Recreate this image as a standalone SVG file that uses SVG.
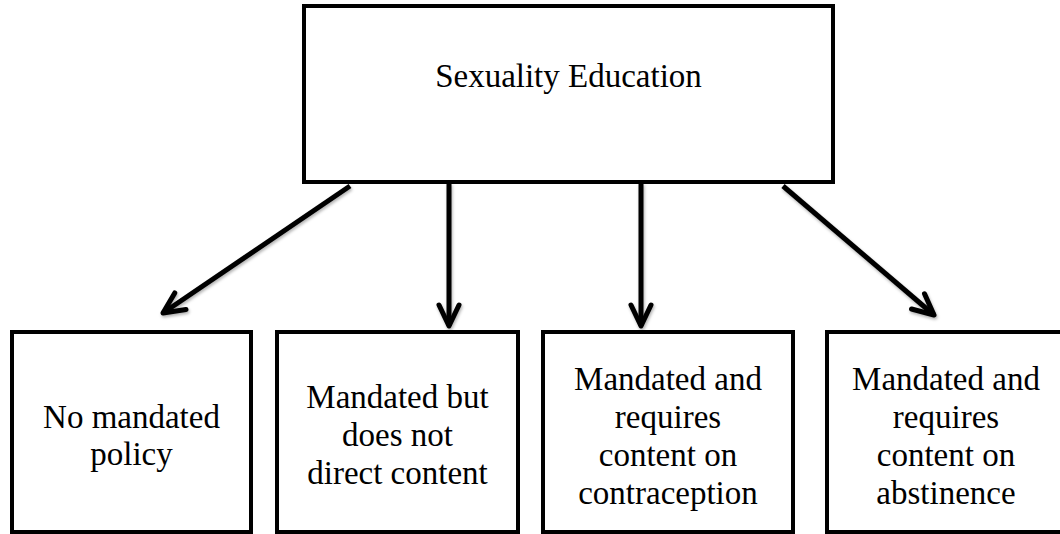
<svg xmlns="http://www.w3.org/2000/svg" width="1060" height="534" viewBox="0 0 1060 534">
  <style>
    .box { fill: #ffffff; stroke: #000000; stroke-width: 4; }
    .lbl { font-family: "Liberation Serif", "Times New Roman", serif; font-size: 33px; fill: #000000; text-anchor: middle; }
    .conn { stroke: #000000; stroke-width: 5; fill: none; marker-end: url(#chev); }
  </style>
  <defs>
    <marker id="chev" markerUnits="userSpaceOnUse" markerWidth="40" markerHeight="40" viewBox="-30 -20 40 40" refX="0" refY="0" orient="auto">
      <path d="M-21,-10 L0,0 L-21,10" fill="none" stroke="#000000" stroke-width="5" stroke-linecap="round" stroke-linejoin="round"/>
    </marker>
    <filter id="sh" x="-20%" y="-20%" width="140%" height="140%">
      <feDropShadow dx="1" dy="2" stdDeviation="1.5" flood-color="#000000" flood-opacity="0.3"/>
    </filter>
  </defs>

  <g id="connectors" filter="url(#sh)">
    <line class="conn" x1="350" y1="186" x2="163" y2="313"/>
    <line class="conn" x1="449" y1="183" x2="449" y2="326"/>
    <line class="conn" x1="641" y1="183" x2="641" y2="326"/>
    <line class="conn" x1="783" y1="186" x2="934" y2="315"/>
  </g>

  <g id="node-root">
    <rect class="box" x="304" y="6" width="529" height="176"/>
    <text class="lbl" x="568.5" y="87">Sexuality Education</text>
  </g>

  <g id="node-none">
    <rect class="box" x="12" y="332" width="239" height="200"/>
    <text class="lbl" x="131.5" y="428">No mandated</text>
    <text class="lbl" x="131.5" y="465">policy</text>
  </g>

  <g id="node-nodirect">
    <rect class="box" x="277" y="332" width="241" height="200"/>
    <text class="lbl" x="397.5" y="408">Mandated but</text>
    <text class="lbl" x="397.5" y="446">does not</text>
    <text class="lbl" x="397.5" y="484">direct content</text>
  </g>

  <g id="node-contraception">
    <rect class="box" x="543" y="332" width="250" height="200"/>
    <text class="lbl" x="668" y="390">Mandated and</text>
    <text class="lbl" x="668" y="428">requires</text>
    <text class="lbl" x="668" y="466">content on</text>
    <text class="lbl" x="668" y="504">contraception</text>
  </g>

  <g id="node-abstinence">
    <rect class="box" x="827" y="332" width="240" height="200"/>
    <text class="lbl" x="946" y="390">Mandated and</text>
    <text class="lbl" x="946" y="428">requires</text>
    <text class="lbl" x="946" y="466">content on</text>
    <text class="lbl" x="946" y="504">abstinence</text>
  </g>
</svg>
